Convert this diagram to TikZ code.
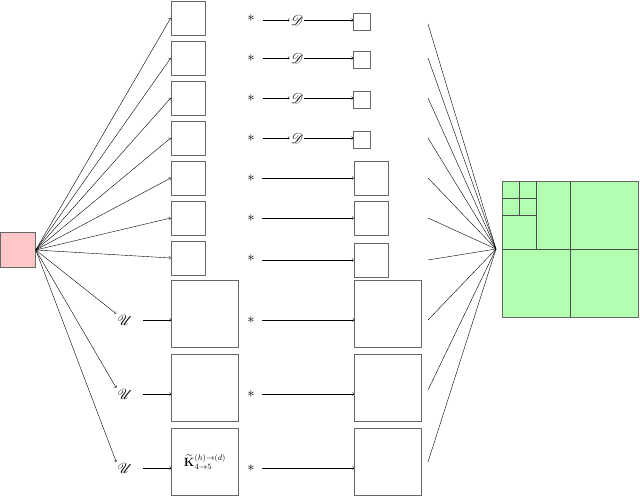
\documentclass[tikz,border=0pt]{standalone}
\usepackage{amsmath,amssymb,mathrsfs}
\begin{document}
\begin{tikzpicture}[x=1pt,y=-1pt,
  bx/.style={draw=black!60,line width=0.5pt,minimum size=#1,inner sep=0pt},
  ar/.style={->,>=to,line width=0.4pt},
  ln/.style={line width=0.4pt},
  lb/.style={inner sep=1pt,font=\Large}]
\useasboundingbox (0,0) rectangle (640,498);
\node[bx=35pt,fill=red!22] (r) at (18,250) {};
% left column
\foreach \i/\y in {1/18,2/58,3/98,4/138,5/178,6/218,7/258}{
  \node[bx=34pt] (a\i) at (188,\y) {};
  \draw[ar] (r.east) -- (a\i.west);
  \node[lb] (s\i) at (251,\y) {$*$};
}
\foreach \i/\y in {8/314,9/388,10/462}{
  \node[bx=67pt] (a\i) at (205,\y) {};
  \node[lb] (u\i) at (125,\y+6) {$\mathscr{U}$};
  \draw[ar] (r.east) -- (u\i.north west);
  \draw[ar] (143,\y+6) coordinate (p\i) -- (a\i.west|-p\i);
  \node[lb] (s\i) at (251,\y+6) {$*$};
  \node[bx=67pt] (b\i) at (388,\y) {};
  \draw[ar] (262,\y+6) coordinate (q\i) -- (b\i.west|-q\i);
}
\node[font=\large] (k) at (a10) {$\widetilde{\mathbf{K}}^{(h)\to(d)}_{4\to5}$};
\foreach \i/\y in {1/20,2/58,3/98,4/138}{
  \node[bx=17pt] (b\i) at (362,\y+2) {};
  \node[lb] (dd\i) at (297,\y) {$\mathscr{D}$};
  \draw[ar] (263,\y) coordinate (x\i) -- (dd\i.west);
  \draw[ar] (dd\i.east) -- (b\i.west|-dd\i);
}
\foreach \i/\y in {5/178,6/218,7/260}{
  \node[bx=34pt] (b\i) at (371,\y) {};
  \draw[ar] (262,\y) coordinate (x\i) -- (b\i.west|-x\i);
}
% right fan
\coordinate (f) at (496,249);
\foreach \y in {24,58,98,138,178,218,260,320,390,462}{
  \draw[ln] (428,\y) -- (f);
}
% green
\node[bx=136pt,fill=green!30,anchor=north west] (g) at (502,181) {};
\draw[ln,black!70] (570,181) -- (570,317) (502,249) -- (638,249)
  (536,181) -- (536,249) (502,215) -- (536,215)
  (519,181) -- (519,215) (502,198) -- (536,198);
\end{tikzpicture}
\end{document}
